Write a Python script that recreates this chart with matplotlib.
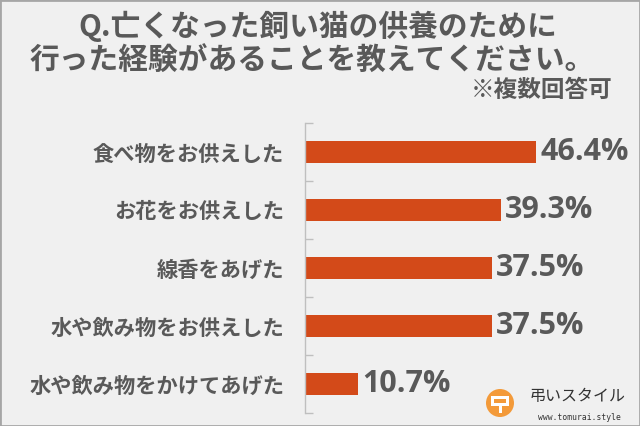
import matplotlib
matplotlib.use("Agg")
import matplotlib.pyplot as plt
from matplotlib.patches import Rectangle, Ellipse

plt.rcParams['font.family'] = ['Noto Sans CJK JP', 'DejaVu Sans']

categories = ["食べ物をお供えした", "お花をお供えした", "線香をあげた",
              "水や飲み物をお供えした", "水や飲み物をかけてあげた"]
values = [46.4, 39.3, 37.5, 37.5, 10.7]
value_labels = ["46.4%", "39.3%", "37.5%", "37.5%", "10.7%"]
title_lines = ["Q.亡くなった飼い猫の供養のために", "行った経験があることを教えてください。"]
note = "※複数回答可"

BG = "#f0f0f0"
BAR = "#d34a19"
TXT = "#595959"

fig = plt.figure(figsize=(6.4, 4.26), dpi=100, facecolor=BG)
W, H = 640, 426

ax = fig.add_axes([305 / W, (H - 413) / H, 330 / W, 290 / H])
ax.set_facecolor("none")
y = list(range(len(categories)))
ax.barh(y, values, height=0.38, color=BAR)
ax.set_xlim(0, 330 / 4.98)
ax.set_ylim(len(categories) - 0.5, -0.5)
for s in ["top", "right", "bottom"]:
    ax.spines[s].set_visible(False)
ax.spines["left"].set_color("#bfbfbf")
ax.spines["left"].set_linewidth(1.0)
ax.set_xticks([])
ax.set_yticks([i - 0.5 for i in range(len(categories) + 1)])
ax.set_yticklabels([])
ax.tick_params(axis="y", direction="in", length=6, color="#bfbfbf", width=1.0)
ax.set_yticks(y, minor=True)
ax.set_yticklabels(categories, minor=True, fontsize=15.3, color=TXT, fontweight="bold")
ax.tick_params(axis="y", which="minor", length=0, pad=15)

for yi, v, lab in zip(y, values, value_labels):
    ax.text(v + 0.8, yi, lab, va="center", ha="left", fontsize=22,
            fontweight="bold", color=TXT, family=["Open Sans", "DejaVu Sans"])

fig.text(318 / W, 1 - 26 / H, title_lines[0], ha="center", va="center",
         fontsize=21.4, fontweight="bold", color=TXT)
fig.text(312 / W, 1 - 61 / H, title_lines[1], ha="center", va="center",
         fontsize=21.4, fontweight="bold", color=TXT)
fig.text(613 / W, 1 - 90 / H, note, ha="right", va="center",
         fontsize=17, fontweight="bold", color=TXT)

# logo
cx, cy, r = 500, 403, 14
fig.patches.append(Ellipse((cx / W, 1 - cy / H), 2 * r / W, 2 * r / H,
                           transform=fig.transFigure, facecolor="#f39a3a", edgecolor="none"))
for (x0, y0, w, h) in [(491, 396, 18, 3), (491, 396, 3, 10), (506, 396, 3, 10),
                       (491, 403, 18, 3), (499, 403, 3, 10)]:
    fig.patches.append(Rectangle((x0 / W, 1 - (y0 + h) / H), w / W, h / H,
                                 transform=fig.transFigure, facecolor="white", edgecolor="none"))
fig.text(530 / W, 1 - 396 / H, "弔いスタイル", ha="left", va="center",
         fontsize=11.5, color="#333333")
fig.text(538 / W, 1 - 418 / H, "www.tomurai.style", ha="left", va="center",
         fontsize=5.8, color="#333333", family=["DejaVu Sans Mono"])

# frame
fig.patches.append(Rectangle((0, 0), 1, 1, transform=fig.transFigure, fill=False,
                             edgecolor="#a6a6a6", linewidth=2.0))

fig.savefig("out.png", dpi=100, facecolor=BG)
